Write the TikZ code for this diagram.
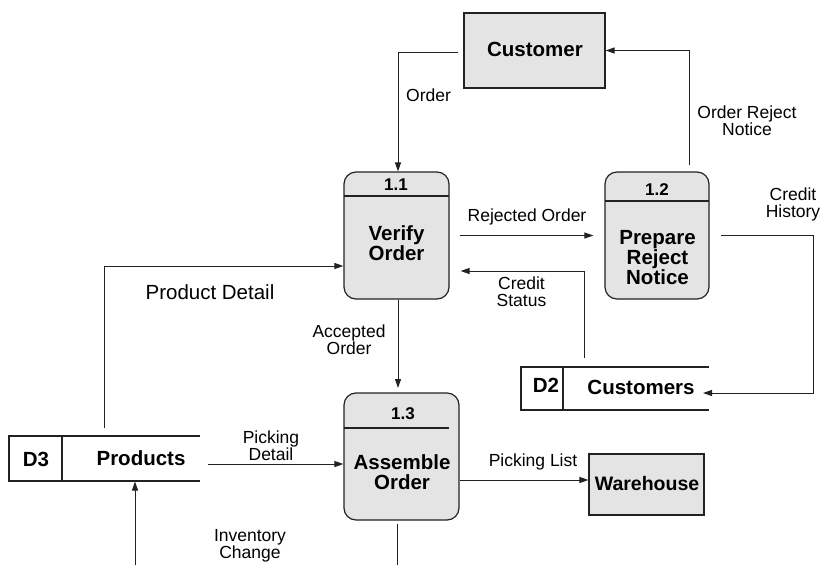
\documentclass[tikz,border=0pt]{standalone}
\usepackage{fontspec}
\setmainfont{Liberation Sans}
\usetikzlibrary{arrows.meta}
\definecolor{boxfill}{HTML}{E4E4E4}
\definecolor{linecol}{HTML}{222222}
\begin{document}
\begin{tikzpicture}[x=1pt,y=-1pt,
  flow/.style={draw=linecol, line width=1pt, -{Triangle[length=9pt,width=6pt]}},
  plain/.style={draw=linecol, line width=1pt},
  extbox/.style={draw=linecol, line width=1.2pt, fill=boxfill, inner sep=0pt},
  procbox/.style={draw=linecol, line width=1.2pt, fill=boxfill, rounded corners=12pt, inner sep=0pt},
  storeline/.style={draw=linecol, line width=1.2pt},
  lbl/.style={inner sep=0pt, align=center, font=\fontsize{17.5}{17}\selectfont},
  biglbl/.style={inner sep=0pt, align=center, font=\fontsize{20.5}{20}\selectfont},
  ttl/.style={inner sep=0pt, align=center, font=\fontsize{20.5}{20}\selectfont\bfseries},
  num/.style={inner sep=0pt, font=\fontsize{17}{17}\selectfont\bfseries}
]
\useasboundingbox (0,0) rectangle (821,565);
\fill[white] (0,0) rectangle (821,565);

% External entities
\node[extbox, minimum width=141pt, minimum height=75pt] (cust) at (534.5,50.5) {};
\node[ttl] (custt) at (535,49) {Customer};
\node[extbox, minimum width=115pt, minimum height=61pt] (wh) at (646.5,484.5) {};
\node[ttl, font=\fontsize{19.5}{20}\selectfont\bfseries] (wht) at (647,484) {Warehouse};

% Processes
\node[procbox, minimum width=105pt, minimum height=127pt] (p11) at (396.5,235.5) {};
\draw[storeline] (344,196) -- (449,196);
\node[num] (p11n) at (396,185) {1.1};
\node[ttl] (p11t) at (396.5,243) {Verify\\Order};

\node[procbox, minimum width=104pt, minimum height=127pt] (p12) at (657,235.5) {};
\draw[storeline] (605,201) -- (709,201);
\node[num] (p12n) at (657,190) {1.2};
\node[ttl] (p12t) at (657.5,258) {Prepare\\Reject\\Notice};

\node[procbox, minimum width=115pt, minimum height=127pt] (p13) at (401.5,456.5) {};
\draw[storeline] (344,428) -- (449,428);
\node[num] (p13n) at (403,414) {1.3};
\node[ttl] (p13t) at (402,472) {Assemble\\Order};

% Data stores
\draw[storeline] (709,367) -- (521,367) -- (521,410) -- (709,410);
\draw[storeline] (563,367) -- (563,410);
\node[ttl] (d2id) at (546,385) {D2};
\node[ttl] (d2n) at (641,387) {Customers};

\draw[storeline] (200,436) -- (9,436) -- (9,481) -- (200,481);
\draw[storeline] (62,436) -- (62,481);
\node[ttl] (d3id) at (36,459) {D3};
\node[ttl] (d3n) at (141,458) {Products};

% Connector end points at stores / page edge
\coordinate (d2out) at (584,358);
\coordinate (d2in) at (703,393);
\coordinate (d3out) at (104,428);
\coordinate (d3r) at (208,464);
\coordinate (d3in) at (135,481.5);
\coordinate (invsrc) at (135,565);
\coordinate (p13in) at (398,388);
\coordinate (p13o) at ([yshift=-23.5pt]p13.east);
\coordinate (p13bo) at (397,524);
\coordinate (p13sink) at (397,565);

% Flows
\draw[flow] ([xshift=-5pt,yshift=-1.5pt]cust.west) -| ([xshift=1.5pt]p11.north);
\draw[flow] ([xshift=32pt,yshift=6pt]p12.north) |- (cust.east);
\draw[flow] ([xshift=10pt]p11.east) -- ([xshift=-11pt]p12.west);
\draw[flow] (d2out) |- ([xshift=11pt,yshift=-35.5pt]p11.east);
\draw[flow] ([xshift=11pt]p12.east) -- ++(93,0) |- (d2in);
\draw[flow] (d3out) |- ([yshift=-30.5pt]p11.west);
\draw[flow] (p11.south -| p13in) -- (p13in);
\draw[flow] (d3r) -- (d3r -| p13.west);
\draw[flow] (p13o) -- (p13o -| wh.west);
\draw[flow] (invsrc) -- (d3in);
\draw[plain] (p13bo) -- (p13sink);

% Flow labels
\node[lbl] (lorder) at (428.5,95) {Order};
\node[lbl] (lorn) at (747,120.5) {Order Reject\\Notice};
\node[lbl] (lrej) at (527,217) {Rejected Order};
\node[lbl] (lcs) at (521.5,291.5) {Credit\\Status};
\node[lbl] (lch) at (793,204) {Credit\\History};
\node[biglbl] (lpd) at (210,292) {Product Detail};
\node[lbl] (lacc) at (349,339.5) {Accepted\\Order};
\node[lbl] (lpick) at (271,445.5) {Picking\\Detail};
\node[lbl] (lpl) at (533,462) {Picking List};
\node[lbl] (linv) at (250,545.5) {Inventory\\Change};
\end{tikzpicture}
\end{document}
